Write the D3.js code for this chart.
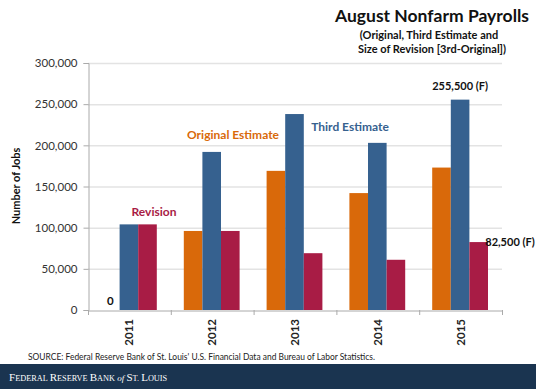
<!DOCTYPE html>
<html><head><meta charset="utf-8">
<script src="https://cdn.jsdelivr.net/npm/d3@7"></script>
<style>
body{margin:0;background:#fff;}
svg text{font-family:Lato,"Open Sans",sans-serif;}
</style></head>
<body><svg id="c" width="536" height="389"></svg>
<script>
const years = ["2011","2012","2013","2014","2015"];
const original = [0, 96000, 169000, 142000, 173000];
const third = [104000, 192000, 238000, 203000, 255500];
const revision = [104000, 96000, 69000, 61000, 82500];
const yTicks = [0, 50000, 100000, 150000, 200000, 250000, 300000];
const seriesNames = ["Original Estimate", "Third Estimate", "Revision"];
const colors = ["#D9690A", "#36618F", "#A81C45"];

const svg = d3.select("#c");
const m = {l:88, r:502, t:63, b:310};
const x = d3.scaleBand().domain(years).range([m.l, m.r]).paddingInner(0).paddingOuter(0);
const xs = d3.scaleBand().domain(d3.range(3)).range([13, x.bandwidth()-14]);
const y = d3.scaleLinear().domain([0, 300000]).range([m.b, m.t]);

// gridlines
svg.append("g").selectAll("line").data(yTicks.slice(1)).join("line")
  .attr("x1", m.l).attr("x2", m.r).attr("y1", d=>y(d)+0.5).attr("y2", d=>y(d)+0.5)
  .attr("stroke", "#e3e3e3").attr("stroke-width", 1.5);

// bars
const data = [original, third, revision];
years.forEach((yr, i) => {
  data.forEach((s, k) => {
    svg.append("rect")
      .attr("x", x(yr) + xs(k)).attr("width", xs.bandwidth())
      .attr("y", y(s[i])).attr("height", y(0) - y(s[i]))
      .attr("fill", colors[k]);
  });
});

// y axis
const ya = svg.append("g").attr("transform", `translate(${m.l+0.5},0)`)
  .call(d3.axisLeft(y).tickValues(yTicks).tickSize(5).tickPadding(6).tickFormat(d3.format(",")));
ya.select(".domain").attr("stroke", "#aaa");
ya.selectAll(".tick line").attr("stroke", "#aaa");
ya.selectAll("text").attr("font-size", 11.5).attr("fill", "#333").style("font-family", "Lato,sans-serif");

// x axis
const xa = svg.append("g").attr("transform", `translate(0,${m.b+0.5})`)
  .call(d3.axisBottom(x).tickSize(0).tickFormat(""));
xa.select(".domain").attr("stroke", "#aaa");
years.concat(["end"]).forEach((d, i) => {
  const xx = m.l + i * x.bandwidth();
  svg.append("line").attr("x1", xx+0.5).attr("x2", xx+0.5).attr("y1", m.b).attr("y2", m.b+5).attr("stroke", "#aaa");
});
svg.append("g").selectAll("text").data(years).join("text")
  .attr("transform", d => `translate(${x(d)+x.bandwidth()/2+4},319) rotate(-90)`)
  .attr("text-anchor", "end").attr("font-size", 11.5).attr("font-weight", "bold").attr("fill", "#222")
  .text(d => d);

// y label
svg.append("text").attr("transform", "translate(20,186) rotate(-90)")
  .attr("text-anchor", "middle").attr("font-size", 11).attr("font-weight", "bold").attr("fill", "#111")
  .text("Number of Jobs");

// title
svg.append("text").attr("x", 432).attr("y", 22).attr("text-anchor", "middle")
  .attr("font-size", 17.5).attr("font-weight", "bold").attr("fill", "#111").text("August Nonfarm Payrolls");
svg.append("text").attr("x", 429).attr("y", 39).attr("text-anchor", "middle")
  .attr("font-size", 11).attr("font-weight", "bold").attr("fill", "#111").text("(Original, Third Estimate and");
svg.append("text").attr("x", 432).attr("y", 53).attr("text-anchor", "middle")
  .attr("font-size", 11).attr("font-weight", "bold").attr("fill", "#111").text("Size of Revision [3rd-Original])");

// annotations
function ann(tx, ty, t, c, size) {
  svg.append("text").attr("x", tx).attr("y", ty).attr("text-anchor", "middle")
    .attr("font-size", size || 11.5).attr("font-weight", "bold").attr("fill", c).text(t);
}
ann(x("2011") + xs(0) + xs.bandwidth()/2, 305, "0", "#111");
ann(154, 216, seriesNames[2], colors[2], 12);
ann(233, 139, seriesNames[0], colors[0], 12);
ann(350, 131, seriesNames[1], colors[1], 12);
ann(x("2015") + xs(1) + xs.bandwidth()/2, y(third[4]) - 10, d3.format(",")(third[4]) + " (F)", "#111", 11);
ann(510, y(revision[4]) + 4, d3.format(",")(revision[4]) + " (F)", "#111", 11);

// source
svg.append("text").attr("x", 28).attr("y", 360).attr("font-size", 8.5).attr("fill", "#222")
  .attr("textLength", 347).attr("lengthAdjust", "spacingAndGlyphs")
  .text("SOURCE: Federal Reserve Bank of St. Louis' U.S. Financial Data and Bureau of Labor Statistics.");

// footer
svg.append("rect").attr("x", 0).attr("y", 364).attr("width", 536).attr("height", 25).attr("fill", "#1A3450");
const ft = svg.append("text").attr("x", 9).attr("y", 381).attr("fill", "#fff")
  .style("font-family", "'Liberation Serif','DejaVu Serif',serif");
const big = 11, small = 8.3;
ft.append("tspan").text("F").attr("font-size", big);
ft.append("tspan").text("EDERAL ").attr("font-size", small);
ft.append("tspan").text("R").attr("font-size", big);
ft.append("tspan").text("ESERVE ").attr("font-size", small);
ft.append("tspan").text("B").attr("font-size", big);
ft.append("tspan").text("ANK ").attr("font-size", small);
ft.append("tspan").text("of ").attr("font-size", 9).attr("font-style", "italic");
ft.append("tspan").text("S").attr("font-size", big);
ft.append("tspan").text("T. ").attr("font-size", small);
ft.append("tspan").text("L").attr("font-size", big);
ft.append("tspan").text("OUIS").attr("font-size", small);
</script></body></html>
